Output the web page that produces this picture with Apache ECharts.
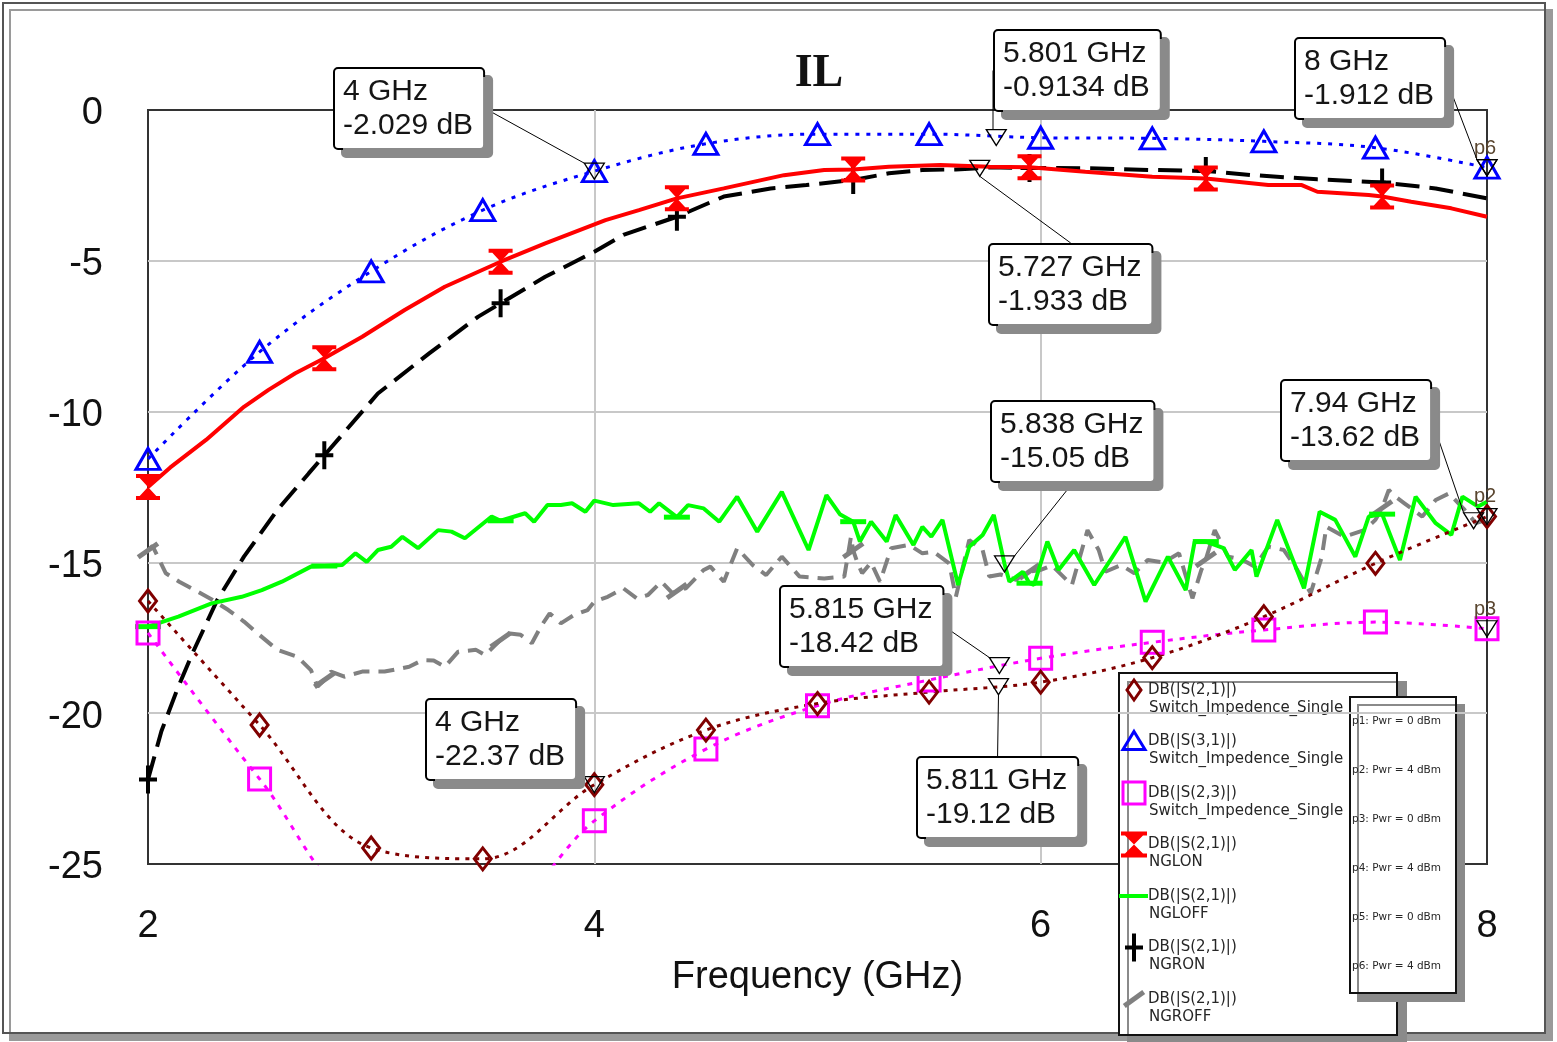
<!DOCTYPE html>
<html>
<head>
<meta charset="utf-8">
<script src="https://cdn.jsdelivr.net/npm/echarts@6/dist/echarts.min.js"></script>
<style>
  html, body { margin: 0; padding: 0; background: #ffffff; }
  #chart { width: 1557px; height: 1042px; }
</style>
</head>
<body>
<div id="chart"></div>
<script>
// ---- Switch_Impedence_Single sweeps (GHz / dB) ----
const sweepFreq  = [2, 2.5, 3, 3.5, 4, 4.5, 5, 5.5, 6, 6.5, 7, 7.5, 8];
const s21Single  = [-16.28, -20.39, -24.47, -24.83, -22.37, -20.56, -19.68, -19.3, -18.97, -18.16, -16.8, -15.03, -13.48];
const s31Single  = [-11.57, -8.02, -5.35, -3.32, -2.029, -1.12, -0.8, -0.8, -0.92, -0.94, -1.04, -1.25, -1.912];
const s23Single  = [-17.34, -22.18, -26.6, -26.9, -23.57, -21.19, -19.75, -18.9, -18.18, -17.65, -17.24, -16.98, -17.2];

// ---- NG switch states, [GHz, dB] ----
const nglonPts = [[2,-12.5],[2.1,-11.85],[2.26,-10.94],[2.43,-9.84],[2.54,-9.28],[2.66,-8.73],[2.79,-8.23],[2.96,-7.52],
  [3.15,-6.63],[3.33,-5.86],[3.58,-5.03],[3.78,-4.42],[4.05,-3.65],[4.2,-3.32],[4.37,-2.93],[4.58,-2.6],[4.85,-2.16],
  [5.03,-1.99],[5.16,-1.97],[5.32,-1.88],[5.55,-1.82],[5.77,-1.88],[5.95,-1.9],[6.2,-2.05],[6.5,-2.21],[6.74,-2.27],
  [7.02,-2.49],[7.17,-2.49],[7.24,-2.71],[7.47,-2.82],[7.53,-2.87],[7.66,-3.04],[7.84,-3.26],[8,-3.54]];

const ngronPts = [[2,-22.2],[2.06,-20.6],[2.13,-19.23],[2.2,-18.0],[2.31,-16.25],[2.43,-14.81],[2.58,-13.26],[2.72,-12.05],
  [2.79,-11.45],[3.03,-9.4],[3.26,-8.07],[3.48,-6.85],[3.58,-6.41],[3.78,-5.53],[4.0,-4.7],[4.13,-4.14],[4.37,-3.54],
  [4.58,-2.87],[4.79,-2.6],[4.95,-2.49],[5.16,-2.32],[5.32,-2.1],[5.47,-1.99],[5.62,-1.97],[5.727,-1.933],[5.77,-1.9],
  [5.95,-1.92],[6.2,-1.93],[6.5,-1.99],[6.74,-2.02],[6.95,-2.16],[7.24,-2.3],[7.53,-2.4],[7.77,-2.6],[8,-2.93]];

const ngloffPts = [[2,-17.13],[2.136,-16.8],[2.285,-16.36],[2.42,-16.14],[2.51,-15.92],[2.6,-15.64],[2.73,-15.14],[2.79,-15.12],
  [2.87,-15.09],[2.93,-14.7],[2.98,-14.98],[3.03,-14.59],[3.09,-14.48],[3.14,-14.15],[3.21,-14.53],[3.3,-13.93],[3.36,-13.98],
  [3.42,-14.2],[3.54,-13.48],[3.58,-13.62],[3.69,-13.37],[3.73,-13.65],[3.79,-13.1],[3.85,-13.1],[3.9,-13.04],[3.96,-13.32],
  [4.0,-12.95],[4.085,-13.1],[4.2,-13.04],[4.25,-13.32],[4.29,-13.04],[4.37,-13.5],[4.42,-13.1],[4.49,-13.21],[4.56,-13.65],
  [4.64,-12.82],[4.73,-13.98],[4.84,-12.66],[4.96,-14.59],[5.04,-12.77],[5.1,-13.4],[5.16,-13.65],[5.19,-14.31],[5.24,-13.65],
  [5.31,-14.31],[5.35,-13.43],[5.43,-14.42],[5.47,-13.82],[5.51,-14.15],[5.56,-13.59],[5.63,-15.75],[5.68,-14.48],[5.74,-14.09],
  [5.79,-13.43],[5.838,-15.05],[5.86,-15.64],[5.92,-15.31],[5.95,-15.69],[5.97,-15.75],[6.03,-14.31],[6.08,-15.25],[6.15,-14.59],
  [6.24,-15.75],[6.38,-14.15],[6.47,-16.3],[6.57,-14.81],[6.65,-15.92],[6.69,-14.31],[6.74,-14.31],[6.82,-14.53],[6.87,-15.25],
  [6.945,-14.59],[6.967,-15.47],[7.06,-13.59],[7.18,-15.86],[7.25,-13.32],[7.32,-13.59],[7.41,-14.81],[7.47,-13.48],[7.53,-13.4],
  [7.61,-14.92],[7.68,-12.82],[7.77,-13.7],[7.84,-14.09],[7.89,-12.82],[7.96,-13.15],[8,-12.99]];

const ngroffPts = [[2,-14.6],[2.02,-14.45],[2.08,-15.36],[2.14,-15.64],[2.21,-15.92],[2.29,-16.25],[2.36,-16.58],[2.43,-16.96],
  [2.49,-17.35],[2.58,-17.9],[2.67,-18.13],[2.73,-18.57],[2.76,-19.12],[2.79,-18.9],[2.82,-18.62],[2.88,-18.79],[2.96,-18.62],
  [3.06,-18.62],[3.17,-18.46],[3.23,-18.24],[3.28,-18.25],[3.33,-18.46],[3.39,-17.96],[3.47,-17.9],[3.51,-18.07],[3.58,-17.57],
  [3.61,-17.35],[3.67,-17.4],[3.72,-17.68],[3.76,-17.13],[3.8,-16.69],[3.85,-17.02],[3.91,-16.74],[3.97,-16.58],[4.0,-16.3],
  [4.06,-16.14],[4.13,-15.86],[4.19,-16.19],[4.24,-16.08],[4.3,-15.64],[4.35,-16.02],[4.37,-15.95],[4.41,-15.86],[4.49,-15.25],
  [4.52,-15.14],[4.58,-15.64],[4.64,-14.53],[4.71,-15.09],[4.77,-15.42],[4.84,-14.81],[4.92,-15.47],[5.03,-15.53],[5.12,-15.47],
  [5.15,-14.15],[5.16,-14.6],[5.18,-15.03],[5.2,-15.36],[5.24,-15.0],[5.28,-15.64],[5.33,-14.53],[5.41,-14.42],[5.47,-14.7],
  [5.52,-14.65],[5.59,-15.03],[5.62,-16.14],[5.68,-14.26],[5.74,-14.59],[5.77,-15.47],[5.82,-15.4],[5.89,-15.58],[5.94,-15.25],
  [5.95,-15.3],[6.0,-15.25],[6.05,-15.1],[6.14,-15.75],[6.21,-13.93],[6.26,-14.59],[6.29,-15.31],[6.36,-15.09],[6.42,-15.36],
  [6.48,-14.92],[6.55,-15.0],[6.62,-14.7],[6.68,-16.19],[6.72,-15.25],[6.74,-14.9],[6.78,-13.93],[6.84,-14.81],[6.9,-14.9],
  [6.96,-15.14],[7.02,-14.48],[7.09,-14.59],[7.15,-15.25],[7.21,-16.02],[7.26,-14.81],[7.28,-13.82],[7.36,-14.15],[7.45,-13.93],
  [7.5,-13.59],[7.53,-13.2],[7.56,-12.6],[7.59,-12.82],[7.63,-13.04],[7.71,-13.48],[7.77,-12.93],[7.83,-12.71],[7.9,-13.26],
  [7.95,-13.7],[8,-13.59]];

// frequencies that carry a symbol on the NG traces
const ngSymbolFreq = [2, 2.79, 3.58, 4.37, 5.16, 5.95, 6.74, 7.53];

// ---- marker readouts ----
const readoutFreq = [4, 5.801, 8, 5.727, 5.838, 7.94, 5.815, 5.811, 4];
const readoutDB   = [-2.029, -0.9134, -1.912, -1.933, -15.05, -13.62, -18.42, -19.12, -22.37];
// top-left corner of each readout box, px
const readoutBoxAt = [[335,69],[995,31],[1296,39],[990,245],[992,402],[1282,381],[781,587],[918,758],[427,700]];

// ---- sweep parameter end markers ----
const paramFreq = [8, 8, 8];
const paramDB   = [-1.912, -13.48, -17.2];
const paramName = ['p6', 'p2', 'p3'];
const paramNote = ['p1: Pwr = 0 dBm', 'p2: Pwr = 4 dBm', 'p3: Pwr = 0 dBm', 'p4: Pwr = 4 dBm', 'p5: Pwr = 0 dBm', 'p6: Pwr = 4 dBm'];

const legendLines = [
  ['DB(|S(2,1)|)', 'Switch_Impedence_Single'],
  ['DB(|S(3,1)|)', 'Switch_Impedence_Single'],
  ['DB(|S(2,3)|)', 'Switch_Impedence_Single'],
  ['DB(|S(2,1)|)', 'NGLON'],
  ['DB(|S(2,1)|)', 'NGLOFF'],
  ['DB(|S(2,1)|)', 'NGRON'],
  ['DB(|S(2,1)|)', 'NGROFF']
];

const C = {
  brown: '#800000', blue: '#0000ff', magenta: '#ff00ff', red: '#ff0000',
  green: '#00ff00', black: '#000000', gray: '#808080'
};
const SANS = "'Liberation Sans', Arial, sans-serif";
const HOURGLASS = 'path://M0,0 L26,0 L26,4 L22,4 L13,13 L22,22 L26,22 L26,26 L0,26 L0,22 L4,22 L13,13 L4,4 L0,4 Z';
const PLUS = 'path://M7,0 L11,0 L11,12 L18,12 L18,16 L11,16 L11,28 L7,28 L7,16 L0,16 L0,12 L7,12 Z';

function sweepData(vals) {
  return sweepFreq.map((f, i) => [f, vals[i]]);
}
function ngData(pts) {
  return pts.map(p => {
    const marked = ngSymbolFreq.some(m => Math.abs(m - p[0]) < 1e-6);
    return marked ? { value: p } : { value: p, symbol: 'none' };
  });
}

const series = [
  {
    name: 'NGROFF', type: 'line', data: ngData(ngroffPts), z: 2,
    symbol: 'rect', symbolSize: [24, 5], symbolRotate: 35,
    itemStyle: { color: C.gray },
    lineStyle: { color: C.gray, width: 4, type: [16, 9] }
  },
  {
    name: 'NGRON', type: 'line', data: ngData(ngronPts), z: 2,
    symbol: PLUS, symbolSize: [18, 28],
    itemStyle: { color: C.black },
    lineStyle: { color: C.black, width: 4, type: [24, 10] }
  },
  {
    name: 'NGLOFF', type: 'line', data: ngData(ngloffPts), z: 3,
    symbol: 'rect', symbolSize: [26, 5],
    itemStyle: { color: C.green },
    lineStyle: { color: C.green, width: 4 }
  },
  {
    name: 'NGLON', type: 'line', data: ngData(nglonPts), z: 3,
    symbol: HOURGLASS, symbolSize: [24, 26],
    itemStyle: { color: C.red },
    lineStyle: { color: C.red, width: 4 }
  },
  {
    name: 'S23', type: 'line', data: sweepData(s23Single), z: 4, smooth: 0.35,
    symbol: 'rect', symbolSize: 22,
    itemStyle: { color: 'rgba(0,0,0,0)', borderColor: C.magenta, borderWidth: 3 },
    lineStyle: { color: C.magenta, width: 3, type: [5, 7] }
  },
  {
    name: 'S31', type: 'line', data: sweepData(s31Single), z: 4, smooth: 0.35,
    symbol: 'triangle', symbolSize: [24, 21],
    itemStyle: { color: 'rgba(0,0,0,0)', borderColor: C.blue, borderWidth: 3 },
    lineStyle: { color: C.blue, width: 3, type: [4, 7] }
  },
  {
    name: 'S21', type: 'line', data: sweepData(s21Single), z: 4, smooth: 0.35,
    symbol: 'diamond', symbolSize: [17, 22],
    itemStyle: { color: 'rgba(0,0,0,0)', borderColor: C.brown, borderWidth: 3 },
    lineStyle: { color: C.brown, width: 3, type: [4, 6] }
  },
  {
    name: 'params', type: 'scatter', z: 5,
    data: paramFreq.map((f, i) => ({ value: [f, paramDB[i]], name: paramName[i] })),
    symbol: 'triangle', symbolRotate: 180, symbolSize: [20, 16],
    itemStyle: { color: 'rgba(255,255,255,0)', borderColor: '#000', borderWidth: 1.3, opacity: 1 },
    label: {
      show: true, position: 'top', distance: 1, offset: [-2, 0], opacity: 1,
      formatter: p => p.name, fontFamily: SANS, fontSize: 20, color: '#5a4630'
    }
  },
  {
    name: 'readouts', type: 'scatter', z: 6,
    data: readoutFreq.map((f, i) => [f, readoutDB[i]]),
    symbol: 'triangle', symbolRotate: 180, symbolSize: [20, 16],
    itemStyle: { color: 'rgba(255,255,255,0)', borderColor: '#000', borderWidth: 1.3, opacity: 1 },
    label: {
      show: true, opacity: 1,
      formatter: p => p.value[0] + ' GHz\n' + p.value[1] + ' dB',
      fontFamily: SANS, fontSize: 30, lineHeight: 34, color: '#151515',
      backgroundColor: '#ffffff', borderColor: '#000', borderWidth: 2, borderRadius: 3,
      padding: [6, 10, 5, 8],
      shadowColor: '#8a8a8a', shadowOffsetX: 8, shadowOffsetY: 8, shadowBlur: 0
    },
    labelLine: { show: true, smooth: false, lineStyle: { color: '#000', width: 1, opacity: 1 } },
    labelLayout: p => ({
      x: readoutBoxAt[p.dataIndex][0], y: readoutBoxAt[p.dataIndex][1],
      align: 'left', verticalAlign: 'top'
    })
  }
];

// legend drawn as a boxed panel at the lower right
const legendIconFor = [
  (x, y) => ({ type: 'polygon', shape: { points: [[x, y - 10], [x + 7, y], [x, y + 10], [x - 7, y]] },
               style: { fill: 'none', stroke: C.brown, lineWidth: 3 } }),
  (x, y) => ({ type: 'polygon', shape: { points: [[x, y - 10], [x + 11, y + 8], [x - 11, y + 8]] },
               style: { fill: 'none', stroke: C.blue, lineWidth: 3 } }),
  (x, y) => ({ type: 'rect', shape: { x: x - 11, y: y - 11, width: 22, height: 22 },
               style: { fill: 'none', stroke: C.magenta, lineWidth: 3 } }),
  (x, y) => ({ type: 'polygon', shape: { points: [[x - 13, y - 13], [x + 13, y - 13], [x + 13, y - 9], [x + 9, y - 9], [x, y],
               [x + 9, y + 9], [x + 13, y + 9], [x + 13, y + 13], [x - 13, y + 13], [x - 13, y + 9], [x - 9, y + 9], [x, y],
               [x - 9, y - 9], [x - 13, y - 9]] }, style: { fill: C.red } }),
  (x, y) => ({ type: 'line', shape: { x1: x - 15, y1: y, x2: x + 14, y2: y }, style: { stroke: C.green, lineWidth: 4 } }),
  (x, y) => ({ type: 'polygon', shape: { points: [[x - 2, y - 14], [x + 2, y - 14], [x + 2, y - 2], [x + 9, y - 2], [x + 9, y + 2],
               [x + 2, y + 2], [x + 2, y + 14], [x - 2, y + 14], [x - 2, y + 2], [x - 9, y + 2], [x - 9, y - 2], [x - 2, y - 2]] },
               style: { fill: C.black } }),
  (x, y) => ({ type: 'rect', shape: { x: x - 12, y: y - 2.5, width: 24, height: 5 }, rotation: Math.PI / 5,
               originX: x, originY: y, style: { fill: C.gray } })
];

const legendEls = [];
legendEls.push({ type: 'rect', shape: { x: 1119, y: 673, width: 278, height: 362 },
  style: { fill: '#fff', stroke: '#111', lineWidth: 2, shadowColor: '#8a8a8a', shadowOffsetX: 9, shadowOffsetY: 9, shadowBlur: 0 } });
legendLines.forEach((lines, i) => {
  const y = 690 + i * 51.5;
  legendEls.push(legendIconFor[i](1134, y));
  legendEls.push({ type: 'text', style: { text: lines[0], x: 1148, y: y, fill: '#262626',
    font: "15px 'DejaVu Sans', sans-serif", verticalAlign: 'middle' } });
  legendEls.push({ type: 'text', style: { text: lines[1], x: 1149, y: y + 18, fill: '#262626',
    font: "15px 'DejaVu Sans', sans-serif", verticalAlign: 'middle' } });
});
legendEls.push({ type: 'rect', shape: { x: 1350, y: 697, width: 106, height: 296 },
  style: { fill: '#fff', stroke: '#111', lineWidth: 2, shadowColor: '#8a8a8a', shadowOffsetX: 8, shadowOffsetY: 8, shadowBlur: 0 } });
paramNote.forEach((t, i) => {
  legendEls.push({ type: 'text', style: { text: t, x: 1352, y: 721 + i * 49, fill: '#262626',
    font: "10.5px 'DejaVu Sans', sans-serif", verticalAlign: 'middle' } });
});

const chart = echarts.init(document.getElementById('chart'), null, { renderer: 'canvas' });
chart.setOption({
  animation: false,
  backgroundColor: '#ffffff',
  title: {
    text: 'IL', left: 814, top: 46, textAlign: 'center',
    textStyle: { fontFamily: "'Liberation Serif', 'Times New Roman', serif", fontWeight: 'bold', fontSize: 46, color: '#111' }
  },
  grid: { left: 148, top: 110, width: 1339, height: 754, show: true, borderColor: '#333', borderWidth: 2, backgroundColor: '#fff' },
  xAxis: {
    type: 'value', min: 2, max: 8, interval: 2,
    axisLine: { show: false }, axisTick: { show: false },
    splitLine: { show: true, showMinLine: false, showMaxLine: false, lineStyle: { color: '#c8c8c8', width: 2 } },
    axisLabel: { fontFamily: SANS, fontSize: 38, color: '#111', margin: 44 },
    name: 'Frequency (GHz)', nameLocation: 'middle', nameGap: 95,
    nameTextStyle: { fontFamily: SANS, fontSize: 38, color: '#111' }
  },
  yAxis: {
    type: 'value', min: -25, max: 0, interval: 5,
    axisLine: { show: false }, axisTick: { show: false },
    splitLine: { show: true, showMinLine: false, showMaxLine: false, lineStyle: { color: '#c8c8c8', width: 2 } },
    axisLabel: { fontFamily: SANS, fontSize: 38, color: '#111', margin: 45, verticalAlign: 'top', lineHeight: 8 }
  },
  graphic: [
    { type: 'rect', z: -10, silent: true, shape: { x: 3, y: 3, width: 1542, height: 1030 },
      style: { fill: '#fff', stroke: '#555', lineWidth: 2, shadowColor: '#9a9a9a', shadowOffsetX: 7, shadowOffsetY: 7, shadowBlur: 0 } },
    { type: 'group', z: 100, children: legendEls }
  ],
  series: series
});
</script>
</body>
</html>
